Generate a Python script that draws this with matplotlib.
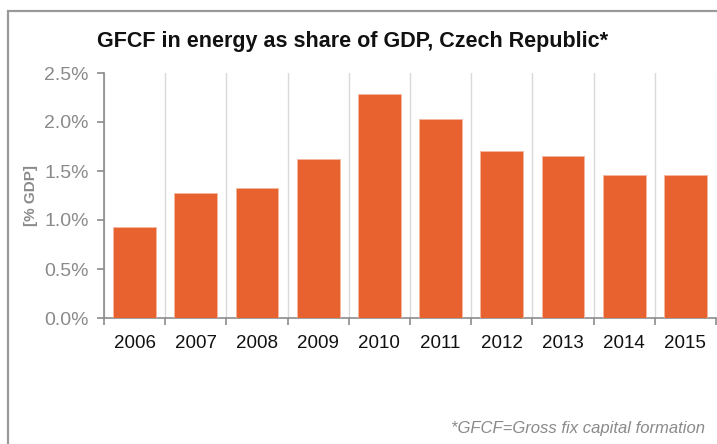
import matplotlib
matplotlib.use("Agg")
from matplotlib import pyplot
from matplotlib.patches import Rectangle
from matplotlib.ticker import FuncFormatter, FixedLocator

pyplot.rcParams['font.family'] = ['Liberation Sans', 'DejaVu Sans']

years = ["2006", "2007", "2008", "2009", "2010", "2011", "2012", "2013", "2014", "2015"]
gfcf_share = [0.93, 1.28, 1.33, 1.62, 2.29, 2.03, 1.70, 1.65, 1.46, 1.46]
y_ticks = [0.0, 0.5, 1.0, 1.5, 2.0, 2.5]

fig = pyplot.figure(figsize=(7.17, 4.44), dpi=100)
ax = fig.add_axes([104 / 717, 1 - 318 / 444, 612 / 717, 245 / 444])

# outer frame (only left and top edges visible)
fig.patches.append(Rectangle((7.5 / 717, -0.1), 1.2, 1.1 - 11 / 444, transform=fig.transFigure,
                             fill=False, edgecolor="#9a9a9a", linewidth=1.6))

x = list(range(len(years)))
ax.bar(x, gfcf_share, width=0.7, color="#E8622F", edgecolor="#f3b69c", linewidth=0.6, zorder=3)

ax.set_xlim(-0.5, len(years) - 0.5)
ax.set_ylim(0, 2.5)
ax.set_yticks(y_ticks)
ax.yaxis.set_major_formatter(FuncFormatter(lambda v, p: f"{v:.1f}%"))
ax.set_xticks(x)
ax.set_xticklabels(years)
ax.xaxis.set_minor_locator(FixedLocator([i + 0.5 for i in range(-1, len(years))]))
ax.grid(axis="x", which="minor", color="#d9d9d9", linewidth=1, zorder=0)

for side in ["top", "right"]:
    ax.spines[side].set_visible(False)
for side in ["left", "bottom"]:
    ax.spines[side].set_color("#8c8c8c")
    ax.spines[side].set_linewidth(1.2)

ax.tick_params(axis="y", colors="#8c8c8c", labelcolor="#8a8a8a", labelsize=14, length=5, width=1.2, pad=6)
ax.tick_params(axis="x", which="major", length=0, labelsize=13.5, labelcolor="#111111", pad=12)
ax.tick_params(axis="x", which="minor", length=5, width=1.2, color="#8c8c8c")

ax.set_ylabel("[% GDP]", fontsize=11, fontweight="bold", color="#8a8a8a")
ax.yaxis.set_label_coords(-0.108, 0.5)

fig.text(97 / 717, 1 - 42 / 444, "GFCF in energy as share of GDP, Czech Republic*",
         fontsize=15.5, fontweight="bold", color="#111111", va="center", ha="left")
fig.text(705 / 717, 1 - 428 / 444, "*GFCF=Gross fix capital formation",
         fontsize=12, style="italic", color="#8a8a8a", va="center", ha="right")

fig.savefig("out.png", dpi=100)
